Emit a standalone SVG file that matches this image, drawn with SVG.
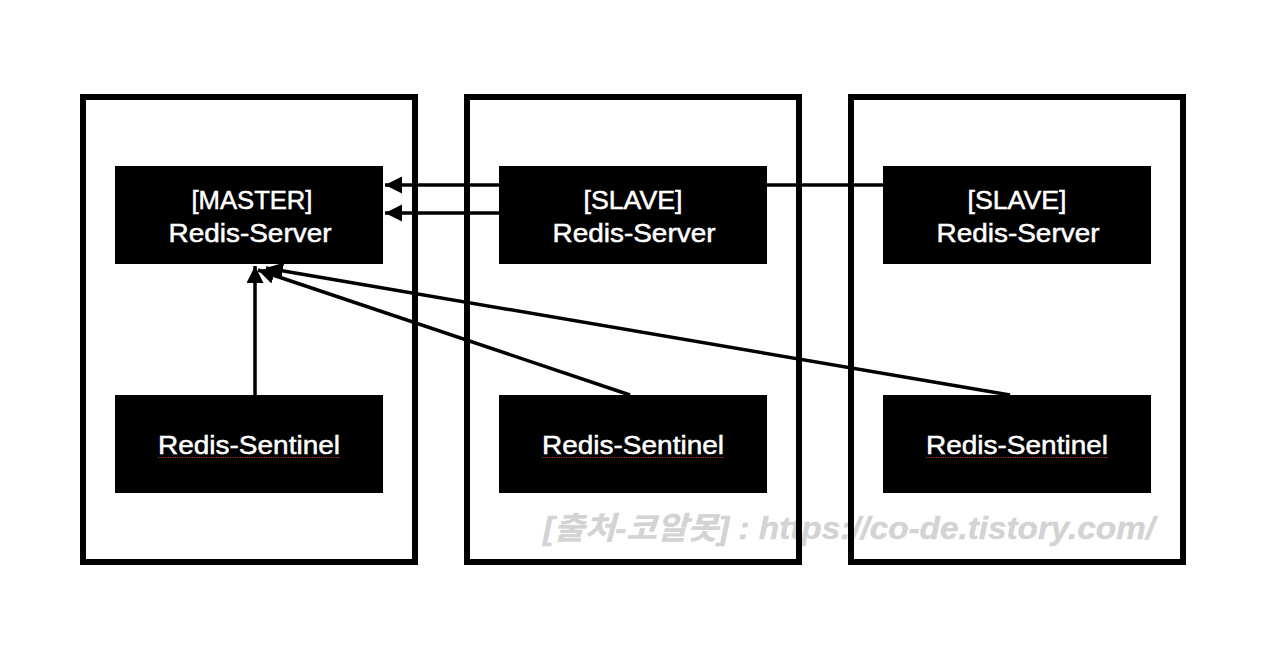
<svg xmlns="http://www.w3.org/2000/svg" width="1280" height="649" viewBox="0 0 1280 649">
<style>
.frame{fill:none;stroke:#000;stroke-width:6}
.node{fill:#000}
.lbl{font-family:"Liberation Sans",Arial,sans-serif;font-size:26px;fill:#fff;stroke:#fff;stroke-width:0.5;text-anchor:middle}
.conn{stroke:#000;stroke-width:3.5;fill:none}
.spell{stroke:#c0392b;stroke-width:1.2;stroke-dasharray:1.2 1.2}
.wm{font-family:"Liberation Sans","Noto Sans CJK KR",sans-serif;font-size:31px;font-weight:bold;font-style:italic;fill:#d3d3d3;stroke:#d3d3d3;stroke-width:0.4}
</style>
<defs>
<marker id="ah" markerUnits="userSpaceOnUse" markerWidth="20" markerHeight="20" refX="17" refY="8.5" orient="auto">
<path d="M0,0 L17,8.5 L0,17 Z" fill="#000"/>
</marker>
</defs>
<rect width="1280" height="649" fill="#fff"/>
<text class="wm" x="543" y="539" textLength="612" lengthAdjust="spacingAndGlyphs">[출처-코알못] : https://co-de.tistory.com/</text>

<g id="host1"><rect class="frame" x="83" y="97" width="332" height="465"/></g>
<g id="host2"><rect class="frame" x="467" y="97" width="332" height="465"/></g>
<g id="host3"><rect class="frame" x="851" y="97" width="332" height="465"/></g>

<g id="master">
<rect class="node" x="115" y="166" width="268" height="98"/>
<text class="lbl" x="252" y="209" textLength="121" lengthAdjust="spacingAndGlyphs">[MASTER]</text>
<text class="lbl" x="250" y="242" textLength="163" lengthAdjust="spacingAndGlyphs">Redis-Server</text>
</g>
<g id="slave1">
<rect class="node" x="499" y="166" width="268" height="98"/>
<text class="lbl" x="633" y="209" textLength="99" lengthAdjust="spacingAndGlyphs">[SLAVE]</text>
<text class="lbl" x="634" y="242" textLength="163" lengthAdjust="spacingAndGlyphs">Redis-Server</text>
</g>
<g id="slave2">
<rect class="node" x="883" y="166" width="268" height="98"/>
<text class="lbl" x="1017" y="209" textLength="99" lengthAdjust="spacingAndGlyphs">[SLAVE]</text>
<text class="lbl" x="1018" y="242" textLength="163" lengthAdjust="spacingAndGlyphs">Redis-Server</text>
</g>
<g id="sentinel1">
<rect class="node" x="115" y="395" width="268" height="98"/>
<text class="lbl" x="249" y="454" textLength="182" lengthAdjust="spacingAndGlyphs">Redis-Sentinel</text>
<line class="spell" x1="158" y1="457.5" x2="340" y2="457.5"/>
</g>
<g id="sentinel2">
<rect class="node" x="499" y="395" width="268" height="98"/>
<text class="lbl" x="633" y="454" textLength="182" lengthAdjust="spacingAndGlyphs">Redis-Sentinel</text>
<line class="spell" x1="542" y1="457.5" x2="724" y2="457.5"/>
</g>
<g id="sentinel3">
<rect class="node" x="883" y="395" width="268" height="98"/>
<text class="lbl" x="1017" y="454" textLength="182" lengthAdjust="spacingAndGlyphs">Redis-Sentinel</text>
<line class="spell" x1="926" y1="457.5" x2="1108" y2="457.5"/>
</g>

<g id="connectors">
<line class="conn" x1="499" y1="185" x2="385" y2="185" marker-end="url(#ah)"/>
<line class="conn" x1="499" y1="213" x2="385" y2="213" marker-end="url(#ah)"/>
<line class="conn" x1="883" y1="185" x2="767" y2="185"/>
<line class="conn" x1="255" y1="395" x2="255" y2="266" marker-end="url(#ah)"/>
<line class="conn" x1="630" y1="395" x2="258" y2="270" marker-end="url(#ah)"/>
<line class="conn" x1="1010" y1="395" x2="266" y2="268" marker-end="url(#ah)"/>
</g>
</svg>
